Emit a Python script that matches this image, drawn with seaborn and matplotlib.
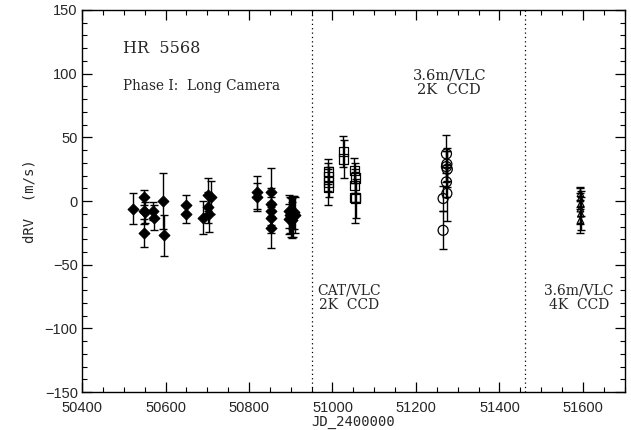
import matplotlib
matplotlib.use("Agg")
import matplotlib.pyplot as plt
from matplotlib.ticker import MultipleLocator
import seaborn as sns
import pandas as pd

# Phase I: Long Camera (filled diamonds)
p1_jd = [50523, 50549, 50549, 50550, 50549, 50571, 50572, 50595, 50596, 50648, 50648,
         50689, 50702, 50702, 50703, 50708, 50818, 50818, 50852, 50852, 50852, 50853, 50852,
         50895, 50897, 50898, 50900, 50902, 50904, 50906, 50908, 50910]
p1_rv = [-6, 3, -8, -9, -25, -8, -13, 0, -27, -3, -10,
         -13, 5, -5, -10, 3, 7, 3, 7, -2, -8, -13, -21,
         -8, -14, -11, -13, -10, -15, -12, -9, -11]
p1_err = [12, 6, 10, 8, 11, 7, 10, 22, 16, 8, 7,
          13, 13, 12, 14, 13, 13, 11, 19, 12, 11, 12, 16,
          13, 12, 14, 15, 12, 14, 16, 13, 14]

# CAT/VLC 2K CCD (open squares)
cat_jd = [50990, 50990, 50991, 50990, 51026, 51027, 51052, 51055, 51053, 51054, 51056]
cat_rv = [23, 19, 15, 11, 39, 33, 24, 18, 12, 3, 2]
cat_err = [10, 11, 12, 14, 12, 15, 10, 12, 13, 20, 15]

# 3.6m/VLC 2K CCD (open circles)
v2_jd = [51265, 51265, 51273, 51274, 51273, 51275, 51273, 51274]
v2_rv = [2, -23, 37, 29, 27, 25, 15, 6]
v2_err = [10, 15, 15, 13, 12, 14, 12, 22]

# 3.6m/VLC 4K CCD (open triangles)
v4_jd = [51594, 51594, 51595, 51594, 51595, 51594]
v4_rv = [6, 2, -2, -6, -10, -15]
v4_err = [5, 8, 10, 12, 13, 10]

sns.set_style("ticks")
plt.rcParams["font.family"] = ["Liberation Sans", "DejaVu Sans"]

fig = plt.figure(figsize=(6.31, 4.30), dpi=100)
ax = fig.add_axes([0.130, 0.088, 0.860, 0.889])

sets = [
    (p1_jd, p1_rv, p1_err, "D", True, 30),
    (cat_jd, cat_rv, cat_err, "s", False, 44),
    (v2_jd, v2_rv, v2_err, "o", False, 52),
    (v4_jd, v4_rv, v4_err, "^", False, 22),
]
for jd, rv, err, mk, filled, sz in sets:
    ax.errorbar(jd, rv, yerr=err, fmt="none", ecolor="black", elinewidth=1.0,
                capsize=3.0, capthick=1.0, zorder=2)
    df = pd.DataFrame({"jd": jd, "rv": rv})
    if filled:
        sns.scatterplot(data=df, x="jd", y="rv", marker=mk, s=sz, color="black",
                        edgecolor="black", linewidth=0.8, ax=ax, zorder=3)
    else:
        sns.scatterplot(data=df, x="jd", y="rv", marker=mk, s=sz, facecolor="none",
                        edgecolor="black", linewidth=0.9, ax=ax, zorder=3)

for xv in [50950, 51460]:
    ax.axvline(xv, color="black", linestyle=(0, (1, 2.5)), linewidth=0.9, zorder=1)

ax.set_xlim(50400, 51700)
ax.set_ylim(-150, 150)
ax.xaxis.set_major_locator(MultipleLocator(200))
ax.xaxis.set_minor_locator(MultipleLocator(50))
ax.yaxis.set_major_locator(MultipleLocator(50))
ax.yaxis.set_minor_locator(MultipleLocator(10))
ax.tick_params(which="both", direction="in", top=True, right=True, color="black")
ax.tick_params(which="major", length=7, width=0.9, labelsize=10.5)
ax.tick_params(which="minor", length=3.5, width=0.8)
ax.tick_params(axis="x", which="major", pad=6.5)
ax.tick_params(axis="y", which="major", pad=3)
for s in ax.spines.values():
    s.set_linewidth(1.0)
    s.set_color("black")

ax.set_xlabel("JD_2400000", fontsize=10, family=["DejaVu Sans Mono"], labelpad=0)
ax.set_ylabel("dRV  (m/s)", fontsize=10, family=["DejaVu Sans Mono"], labelpad=6)

serif = ["DejaVu Serif"]
ax.text(50498, 120, "HR  5568", fontsize=11.5, family=serif, ha="left", va="center")
ax.text(50498, 90, "Phase I:  Long Camera", fontsize=9.8, family=serif, ha="left", va="center")
ax.text(51280, 93, "3.6m/VLC\n2K  CCD", fontsize=10.5, family=serif, ha="center", va="center",
        linespacing=1.0)
ax.text(51039, -76, "CAT/VLC\n2K  CCD", fontsize=10, family=serif, ha="center", va="center",
        linespacing=1.0)
ax.text(51590, -76, "3.6m/VLC\n4K  CCD", fontsize=10, family=serif, ha="center", va="center",
        linespacing=1.0)

fig.savefig("out.png", dpi=100, facecolor="white")
